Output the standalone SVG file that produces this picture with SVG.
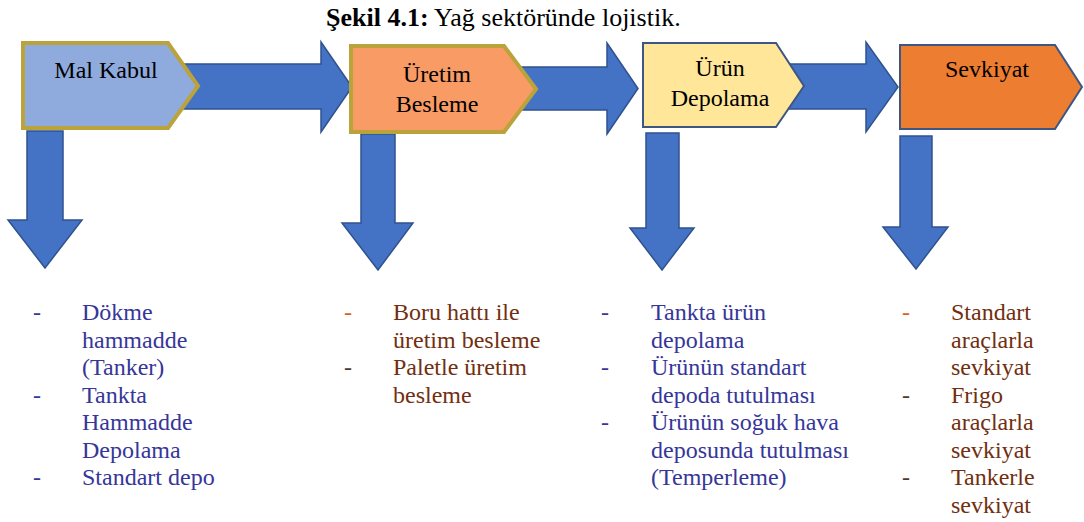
<svg xmlns="http://www.w3.org/2000/svg" width="1084" height="522" viewBox="0 0 1084 522" font-family="'Liberation Serif', 'Times New Roman', 'DejaVu Serif', serif">
<style>
text{font-family:'Liberation Serif','Times New Roman','DejaVu Serif',serif;}
.title{font-size:26px;fill:#000;}
.lbl{font-size:24px;fill:#000;text-anchor:middle;}
.arr{fill:#4472C4;stroke:#2F528F;stroke-width:1.5;stroke-linejoin:miter;}
.gold{stroke:#BBA33B;stroke-width:4;}
.slate{stroke:#3D5682;stroke-width:2;}
.blue{font-size:24px;fill:#363699;}
.brown{font-size:24px;fill:#712F10;}
.dor{fill:#D9601C;}
.ddk{fill:#4A3A30;}
</style>
<rect width="1084" height="522" fill="#fff"/>
<text class="title" x="326" y="26"><tspan font-weight="bold">Şekil 4.1:</tspan> Yağ sektöründe lojistik.</text>

<g id="connectors">
<polygon class="arr" points="180,64 321,64 321,42 352,87 321,132 321,109 180,109"/>
<polygon class="arr" points="515,67 607,67 607,43 638,88.5 607,134 607,110 515,110"/>
<polygon class="arr" points="785,64 866,64 866,42 898,87 866,132 866,109 785,109"/>
<polygon class="arr" points="27,131 63,131 63,220 82,220 45,268 8,220 27,220"/>
<polygon class="arr" points="361,134 395,134 395,223 413,223 378,270 342,223 361,223"/>
<polygon class="arr" points="646,133 679,133 679,228 694,228 662,270 630,228 646,228"/>
<polygon class="arr" points="900,136 932,136 932,227 948,227 916,269 883,227 900,227"/>
</g>

<g id="node-mal-kabul">
<polygon class="gold" fill="#8FAADC" points="23,43 168,43 198,86 168,128 23,128"/>
<text class="lbl" x="106" y="78">Mal Kabul</text>
</g>
<g id="node-uretim-besleme">
<polygon class="gold" fill="#F99B65" points="351,46 504,46 536,89 504,132 351,132"/>
<text class="lbl" x="437" y="82">Üretim</text>
<text class="lbl" x="437" y="112">Besleme</text>
</g>
<g id="node-urun-depolama">
<polygon class="slate" fill="#FFE699" points="643,43 776,43 804,86 776,127 643,127"/>
<text class="lbl" x="720" y="76">Ürün</text>
<text class="lbl" x="720" y="106">Depolama</text>
</g>
<g id="node-sevkiyat">
<polygon class="slate" fill="#ED7D31" points="900,45 1055,45 1082,87 1055,129 900,129"/>
<text class="lbl" x="987" y="77">Sevkiyat</text>
</g>

<g id="list-mal-kabul">
<text class="blue" x="33" y="320">-</text>
<text class="blue" x="82" y="320">Dökme</text>
<text class="blue" x="82" y="347.5">hammadde</text>
<text class="blue" x="82" y="375">(Tanker)</text>
<text class="blue" x="33" y="402.5">-</text>
<text class="blue" x="82" y="402.5">Tankta</text>
<text class="blue" x="82" y="430">Hammadde</text>
<text class="blue" x="82" y="457.5">Depolama</text>
<text class="blue" x="33" y="485">-</text>
<text class="blue" x="82" y="485">Standart depo</text>
</g>

<g id="list-uretim-besleme">
<text class="brown dor" x="344" y="320">-</text>
<text class="brown" x="393" y="320">Boru hattı ile</text>
<text class="brown" x="393" y="347.5">üretim besleme</text>
<text class="brown ddk" x="344" y="375">-</text>
<text class="brown" x="393" y="375">Paletle üretim</text>
<text class="brown" x="393" y="402.5">besleme</text>
</g>

<g id="list-urun-depolama">
<text class="blue" x="601" y="320">-</text>
<text class="blue" x="651" y="320">Tankta ürün</text>
<text class="blue" x="651" y="347.5">depolama</text>
<text class="blue" x="601" y="375">-</text>
<text class="blue" x="651" y="375">Ürünün standart</text>
<text class="blue" x="651" y="402.5">depoda tutulması</text>
<text class="blue" x="601" y="430">-</text>
<text class="blue" x="651" y="430">Ürünün soğuk hava</text>
<text class="blue" x="651" y="457.5">deposunda tutulması</text>
<text class="blue" x="651" y="485">(Temperleme)</text>
</g>

<g id="list-sevkiyat">
<text class="brown dor" x="902" y="320">-</text>
<text class="brown" x="951" y="320">Standart</text>
<text class="brown" x="951" y="347.5">araçlarla</text>
<text class="brown" x="951" y="375">sevkiyat</text>
<text class="brown ddk" x="902" y="402.5">-</text>
<text class="brown" x="951" y="402.5">Frigo</text>
<text class="brown" x="951" y="430">araçlarla</text>
<text class="brown" x="951" y="457.5">sevkiyat</text>
<text class="brown ddk" x="902" y="485">-</text>
<text class="brown" x="951" y="485">Tankerle</text>
<text class="brown" x="951" y="512.5">sevkiyat</text>
</g>
</svg>
